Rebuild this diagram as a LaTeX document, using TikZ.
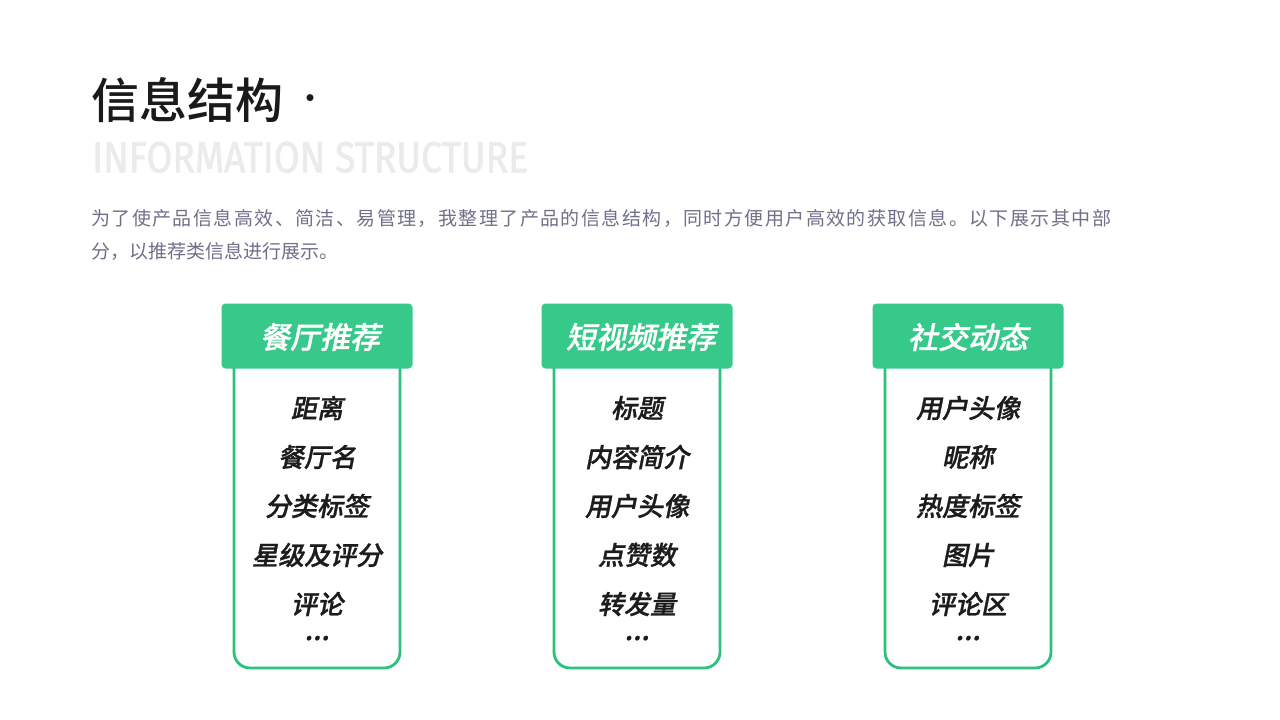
\documentclass[tikz,border=0pt]{standalone}
\usepackage{fontspec}
\usepackage{graphicx}
\setmainfont{Noto Sans CJK SC}
\newfontfamily\cjk{Noto Sans CJK SC}
\newfontfamily\cjkmed{Noto Sans CJK SC Medium}
\newfontfamily\cjkbi{Noto Sans CJK SC Medium}[FakeSlant=0.2,FakeBold=1]
\newfontfamily\cjkpar{Noto Sans CJK SC}[LetterSpace=7.5]
\newfontfamily\latin{Fira Sans}[FakeBold=1.6]
\definecolor{hdrgreen}{HTML}{36C98A}
\definecolor{brdgreen}{HTML}{2BC37B}
\definecolor{itemblack}{HTML}{1C1C1C}
\definecolor{pargray}{HTML}{70708A}
\definecolor{faint}{HTML}{EBEBEE}
\definecolor{titleblack}{HTML}{1A1A1A}
\tikzset{
  hdrbox/.style={fill=hdrgreen, draw=none, rounded corners=4pt, minimum width=191pt, minimum height=65pt, inner sep=0pt},
  hdrtext/.style={text=white, inner sep=0pt, font=\cjkbi\fontsize{30}{30}\selectfont},
  itemtext/.style={text=itemblack, inner sep=0pt, font=\cjkbi\fontsize{26}{26}\selectfont},
  dotstext/.style={text=itemblack, inner sep=0pt, text height=4pt, text depth=0pt, font=\cjkbi\fontsize{28}{28}\selectfont},
  bodyline/.style={draw=brdgreen, line width=2.8pt, rounded corners=16pt}
}
\begin{document}
\begin{tikzpicture}[x=1pt,y=-1pt]
\useasboundingbox[fill=white] (0,0) rectangle (1280,720);
% title
\node[anchor=west, inner sep=0pt, text=titleblack, font=\cjkmed\fontsize{48}{48}\selectfont] (title) at (91,100) {信息结构};
\node[inner sep=0pt, text=titleblack, font=\cjkmed\fontsize{30}{30}\selectfont] (dot) at (310,102) {·};
\node[anchor=south west, inner sep=0pt, text=faint] (sub) at (92,173) {\resizebox{436pt}{30.5pt}{\latin\fontsize{44}{44}\selectfont INFORMATION STRUCTURE}};
% paragraph
\node[anchor=west, inner sep=0pt, text=pargray, font=\cjkpar\fontsize{19}{19}\selectfont] (p1) at (91,218) {为了使产品信息高效、简洁、易管理，我整理了产品的信息结构，同时方便用户高效的获取信息。以下展示其中部};
\node[anchor=west, inner sep=0pt, text=pargray, font=\cjk\fontsize{19}{19}\selectfont] (p2) at (91,251) {分，以推荐类信息进行展示。};
% columns
\foreach \cx/\name/\a/\b/\c/\d/\e in {
  317/1/距离/餐厅名/分类标签/星级及评分/评论,
  637/2/标题/内容简介/用户头像/点赞数/转发量,
  968/3/用户头像/昵称/热度标签/图片/评论区}{
  \coordinate (tl\name) at (\cx-83,350);
  \coordinate (bl\name) at (\cx-83,668);
  \coordinate (br\name) at (\cx+83,668);
  \coordinate (tr\name) at (\cx+83,350);
  \draw[bodyline] (tl\name) -- (bl\name) -- (br\name) -- (tr\name);
  \node[hdrbox] (h\name) at (\cx,336) {};
  \node[itemtext] (i\name a) at (\cx,408) {\a};
  \node[itemtext] (i\name b) at (\cx,457) {\b};
  \node[itemtext] (i\name c) at (\cx,506) {\c};
  \node[itemtext] (i\name d) at (\cx,555) {\d};
  \node[itemtext] (i\name e) at (\cx,604) {\e};
  \node[dotstext] (i\name f) at (\cx,638) {...};
}
\node[hdrtext] (ht1) at (320,337) {餐厅推荐};
\node[hdrtext] (ht2) at (641,337) {短视频推荐};
\node[hdrtext] (ht3) at (968,337) {社交动态};
\end{tikzpicture}
\end{document}
